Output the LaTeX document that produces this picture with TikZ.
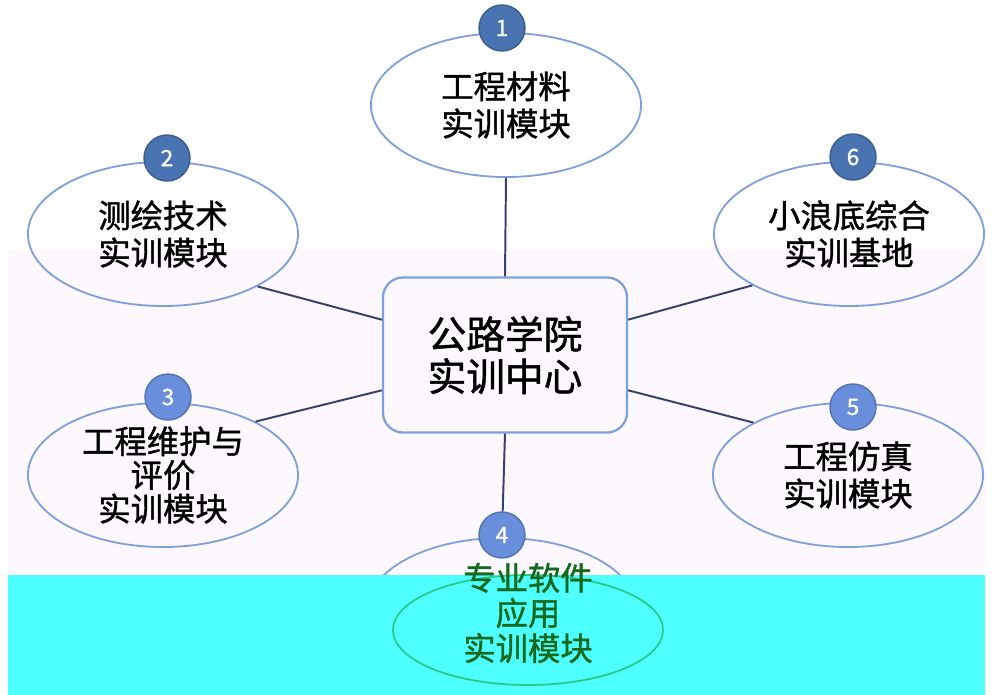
\documentclass[tikz,border=0pt]{standalone}
\usepackage{fontspec}
\newfontfamily\cjk[FakeBold=1.2]{Noto Sans CJK SC}
\usetikzlibrary{shapes.geometric}

\definecolor{ringblue}{RGB}{128,160,220}
\definecolor{linknavy}{RGB}{55,65,110}
\definecolor{darkdot}{RGB}{74,115,178}
\definecolor{lightdot}{RGB}{104,142,220}
\definecolor{bgpink}{RGB}{252,248,253}
\definecolor{cyanband}{RGB}{77,255,255}
\definecolor{greenring}{RGB}{40,200,130}
\definecolor{greentext}{RGB}{20,105,30}

\begin{document}
\begin{tikzpicture}[x=0.025cm, y=-0.025cm, font=\cjk] % pixel-like units, y downwards
\tikzstyle{module} = [ellipse, draw=ringblue, line width=1.3pt, inner sep=0pt, minimum width=6.75cm, minimum height=3.6cm, align=center, text=black, font=\cjk\fontsize{23}{26.5}\selectfont]
\tikzstyle{hubbox} = [rectangle, rounded corners=0.5cm, draw=ringblue, line width=1.6pt, minimum width=6.1cm, minimum height=3.875cm, align=center, text=black, font=\cjk\fontsize{27.5}{30}\selectfont]
\tikzstyle{dot} = [circle, line width=1pt, minimum size=1.15cm, inner sep=0pt, text=white, font=\cjk\fontsize{16}{16}\selectfont]
\tikzstyle{link} = [draw=linknavy, line width=1.4pt]

\useasboundingbox (0,0) rectangle (992,695);

% faint background band
\fill[bgpink] (8,250) rectangle (985,575);

% center box
\node[hubbox] (hub) at (505,355) {公路学院\\实训中心};

% modules around the center
\node[module] (mod1) at (506,105) {工程材料\\实训模块};
\node[module] (mod2) at (163,234) {测绘技术\\实训模块};
\node[module] (mod6) at (849,234) {小浪底综合\\实训基地};
\node[module, font=\cjk\fontsize{23}{24}\selectfont] (mod3) at (163,475) {工程维护与\\评价\\实训模块};
\node[module] (mod5) at (848,475) {工程仿真\\实训模块};
\node[module] (mod4) at (502,610) {};

% cyan band at the bottom
\fill[cyanband] (8,575) rectangle (985,695);
\node[module, draw=greenring, line width=1.2pt, minimum height=2.75cm] (ring4) at (528,630) {};
\node[align=center, text=greentext, font=\cjk\fontsize{23}{25}\selectfont] (text4) at (528,613) {专业软件\\应用\\实训模块};

% connectors
\draw[link] (mod1.south) -- (hub.north);
\draw[link] (hub.164) -- (mod2.331);
\draw[link] (hub.196) -- (mod3.30);
\draw[link] (hub.16) -- (mod6.208);
\draw[link] (hub.344) -- (mod5.151);

% numbered dots
\node[dot, fill=darkdot, draw=darkdot!80!black] (num1) at (502,28) {1};
\node[dot, fill=darkdot, draw=darkdot!80!black] (num2) at (167,158) {2};
\node[dot, fill=lightdot, draw=lightdot!80!black] (num3) at (168,397) {3};
\node[dot, fill=lightdot, draw=lightdot!80!black] (num4) at (502,535) {4};
\node[dot, fill=lightdot, draw=lightdot!80!black] (num5) at (853,407) {5};
\node[dot, fill=darkdot, draw=darkdot!80!black] (num6) at (853,157) {6};

\draw[link] (hub.south) -- (num4);

\end{tikzpicture}
\end{document}
